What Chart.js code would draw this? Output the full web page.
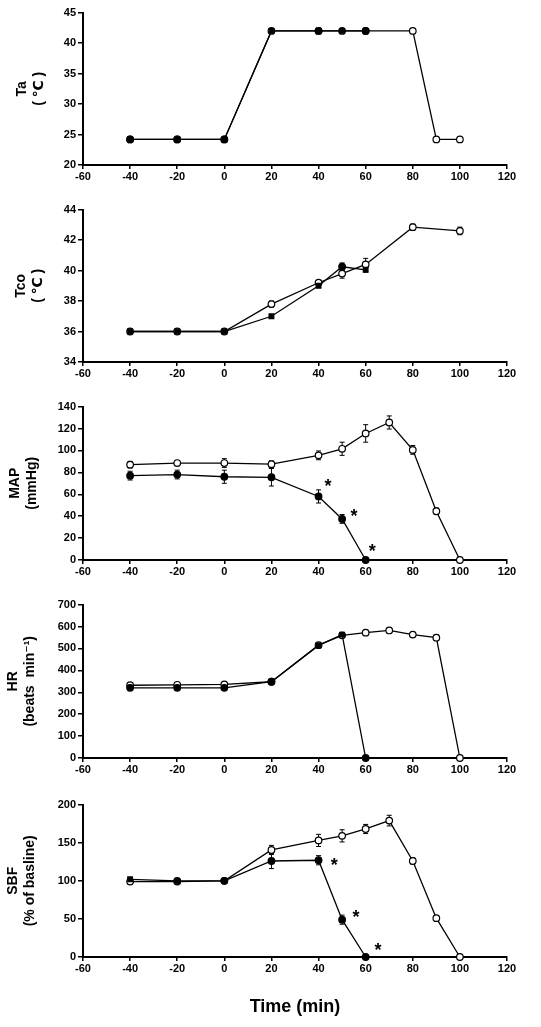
<!DOCTYPE html>
<html>
<head>
<meta charset="utf-8">
<script src="https://cdn.jsdelivr.net/npm/chart.js@4.4.1/dist/chart.umd.min.js"></script>
<style>
body { margin: 0; background: #fff; }
#wrap { position: relative; width: 541px; height: 1027px; }
canvas { position: absolute; left: 0; }
</style>
</head>
<body>
<div id="wrap">
  <canvas id="c1" style="top:4px" width="541" height="189"></canvas>
  <canvas id="c2" style="top:201px" width="541" height="189"></canvas>
  <canvas id="c3" style="top:398px" width="541" height="190"></canvas>
  <canvas id="c4" style="top:596px" width="541" height="190"></canvas>
  <canvas id="c5" style="top:796px" width="541" height="231"></canvas>
</div>
<script>
// time points (min)
var timeFilled = [-40, -20, 0, 20, 40, 50, 60];
var timeOpen = [-40, -20, 0, 20, 40, 50, 60, 70, 80, 90, 100];
var taTimeOpen = [-40, -20, 0, 20, 40, 50, 60, 80, 90, 100];
var tcoTimeOpen = [-40, -20, 0, 20, 40, 50, 60, 80, 100];

// Ta (C)
var taFilled = [24.2, 24.2, 24.2, 42, 42, 42, 42];
var taOpen = [24.2, 24.2, 24.2, 42, 42, 42, 42, 42, 24.2, 24.2];

// Tco (C)
var tcoFilled = [36, 36, 36, 37, 39, 40.25, 40.05];
var tcoFilledErr = [0, 0, 0, 0.1, 0.1, 0.25, 0.15];
var tcoOpen = [36, 36, 36, 37.8, 39.2, 39.8, 40.4, 42.85, 42.6];
var tcoOpenErr = [0, 0, 0, 0.2, 0.1, 0.3, 0.4, 0.2, 0.25];

// MAP (mmHg)
var mapFilled = [77, 78, 76, 75.5, 58, 37.5, 0];
var mapFilledErr = [4, 4, 6, 8, 6, 4, 0];
var mapOpen = [87, 88.5, 88.5, 87.5, 95.5, 101.5, 115.5, 125.5, 100.5, 44.5, 0];
var mapOpenErr = [3, 1.5, 4, 3, 4, 6, 8, 6, 4, 3, 0];
var mapStarX = [44, 55, 62.8];
var mapStarY = [70, 43, 11];

// HR (beats/min)
var hrFilled = [320, 320, 320, 348, 514, 563, 0];
var hrFilledErr = [6, 6, 6, 6, 8, 8, 0];
var hrOpen = [332, 334, 336, 348, 515, 560, 572, 582, 563, 549, 0];
var hrOpenErr = [6, 6, 6, 6, 6, 6, 8, 8, 10, 12, 0];

// SBF (% of baseline)
var sbfFilled = [102, 100, 100, 126, 127, 49, 0];
var sbfFilledErr = [2, 2, 2, 10, 6, 6, 0];
var sbfOpen = [99, 99, 100, 140.5, 153, 159, 168, 179, 126, 51, 0];
var sbfOpenErr = [3, 2, 2, 6, 8, 8, 6, 7, 4, 2, 0];
var sbfStarX = [46.7, 55.9, 65.2];
var sbfStarY = [125, 57, 13];

var xTicks = { min: -60, max: 120, step: 20 };

var toPoints = function(xs, ys) {
  return xs.map(function(x, i) { return { x: x, y: ys[i] }; });
};

var series = function(xs, ys, errs, filled, shapes) {
  return {
    data: toPoints(xs, ys),
    errors: errs || null,
    borderColor: '#000',
    borderWidth: 1.3,
    backgroundColor: filled ? '#000' : '#fff',
    pointBackgroundColor: filled ? '#000' : '#fff',
    pointBorderColor: '#000',
    pointBorderWidth: 1.2,
    pointRadius: 3.3,
    pointStyle: shapes || 'circle',
    tension: 0,
    clip: false
  };
};

var marks = {
  id: 'marks',
  beforeDatasetsDraw: function(chart) {
    var ctx = chart.ctx, xs = chart.scales.x, ys = chart.scales.y;
    ctx.save();
    ctx.strokeStyle = '#000';
    ctx.lineWidth = 1;
    chart.data.datasets.forEach(function(ds) {
      if (!ds.errors) return;
      ds.data.forEach(function(p, i) {
        var e = ds.errors[i];
        if (!e) return;
        var px = xs.getPixelForValue(p.x);
        var t = ys.getPixelForValue(p.y + e);
        var b = ys.getPixelForValue(p.y - e);
        ctx.beginPath();
        ctx.moveTo(px, t); ctx.lineTo(px, b);
        ctx.moveTo(px - 2.5, t); ctx.lineTo(px + 2.5, t);
        ctx.moveTo(px - 2.5, b); ctx.lineTo(px + 2.5, b);
        ctx.stroke();
      });
    });
    ctx.restore();
  },
  afterDatasetsDraw: function(chart, args, opts) {
    if (!opts.starX) return;
    var ctx = chart.ctx;
    ctx.save();
    ctx.fillStyle = '#000';
    ctx.font = 'bold 18px "Liberation Sans", Arial, sans-serif';
    ctx.textAlign = 'center';
    ctx.textBaseline = 'middle';
    opts.starX.forEach(function(x, i) {
      ctx.fillText('*', chart.scales.x.getPixelForValue(x), chart.scales.y.getPixelForValue(opts.starY[i]) + 4);
    });
    ctx.restore();
  }
};

var makePanel = function(id, datasets, yMin, yMax, yStep, yTitle, titlePad, stars, xTitle) {
  var ctx = document.getElementById(id).getContext('2d');
  return new Chart(ctx, {
    type: 'line',
    data: { datasets: datasets },
    plugins: [marks],
    options: {
      responsive: false,
      animation: false,
      devicePixelRatio: 1,
      layout: { padding: { top: 8, right: 34, left: 0, bottom: 0 } },
      plugins: {
        legend: { display: false },
        tooltip: { enabled: false },
        marks: stars || {}
      },
      scales: {
        x: {
          type: 'linear',
          min: xTicks.min,
          max: xTicks.max,
          afterFit: function(s) { s.height = xTitle ? 70 : 28; },
          border: { display: true, color: '#000', width: 2 },
          grid: { display: true, drawOnChartArea: false, drawTicks: true, tickLength: 4, color: '#000', lineWidth: 1.5 },
          ticks: {
            stepSize: xTicks.step,
            padding: 1,
            color: '#000',
            maxRotation: 0,
            font: { family: '"Liberation Sans", Arial, sans-serif', size: 11, weight: 'bold' }
          },
          title: {
            display: !!xTitle,
            text: xTitle || '',
            color: '#000',
            padding: { top: 0, bottom: 9 },
            font: { family: '"Liberation Sans", Arial, sans-serif', size: 18, weight: 'bold' }
          }
        },
        y: {
          min: yMin,
          max: yMax,
          afterFit: function(s) { s.width = 83; },
          border: { display: true, color: '#000', width: 2 },
          grid: { display: true, drawOnChartArea: false, drawTicks: true, tickLength: 5, color: '#000', lineWidth: 1.5 },
          ticks: {
            stepSize: yStep,
            padding: 2,
            color: '#000',
            font: { family: '"Liberation Sans", Arial, sans-serif', size: 11, weight: 'bold' }
          },
          title: {
            display: true,
            text: yTitle,
            color: '#000',
            padding: { top: titlePad, bottom: 0 },
            font: { family: '"Liberation Sans", "DejaVu Sans", Arial, sans-serif', size: 14, weight: 'bold' }
          }
        }
      }
    }
  });
};

makePanel('c1', [
  series(timeFilled, taFilled, null, true, ['circle', 'circle', 'circle', 'rect', 'circle', 'rect', 'circle']),
  series(taTimeOpen, taOpen, null, false)
], 20, 45, 5, ['Ta', '( \u2103 )'], 13.5);

makePanel('c2', [
  series(timeFilled, tcoFilled, tcoFilledErr, true, ['rect', 'rect', 'rect', 'rect', 'rect', 'circle', 'rect']),
  series(tcoTimeOpen, tcoOpen, tcoOpenErr, false)
], 34, 44, 2, ['Tco', '( \u2103 )'], 12.5);

makePanel('c3', [
  series(timeFilled, mapFilled, mapFilledErr, true),
  series(timeOpen, mapOpen, mapOpenErr, false)
], 0, 140, 20, ['MAP', '(mmHg)'], 6.5, { starX: mapStarX, starY: mapStarY });

makePanel('c4', [
  series(timeFilled, hrFilled, hrFilledErr, true, ['circle', 'circle', 'circle', 'circle', 'rect', 'rect', 'circle']),
  series(timeOpen, hrOpen, hrOpenErr, false)
], 0, 700, 100, ['HR', '(beats  min\u207B\u00B9)'], 4.5);

makePanel('c5', [
  series(timeFilled, sbfFilled, sbfFilledErr, true, ['rect', 'circle', 'circle', 'circle', 'circle', 'circle', 'circle']),
  series(timeOpen, sbfOpen, sbfOpenErr, false)
], 0, 200, 50, ['SBF', '(% of basline)'], 4.5, { starX: sbfStarX, starY: sbfStarY }, 'Time (min)');
</script>
</body>
</html>
